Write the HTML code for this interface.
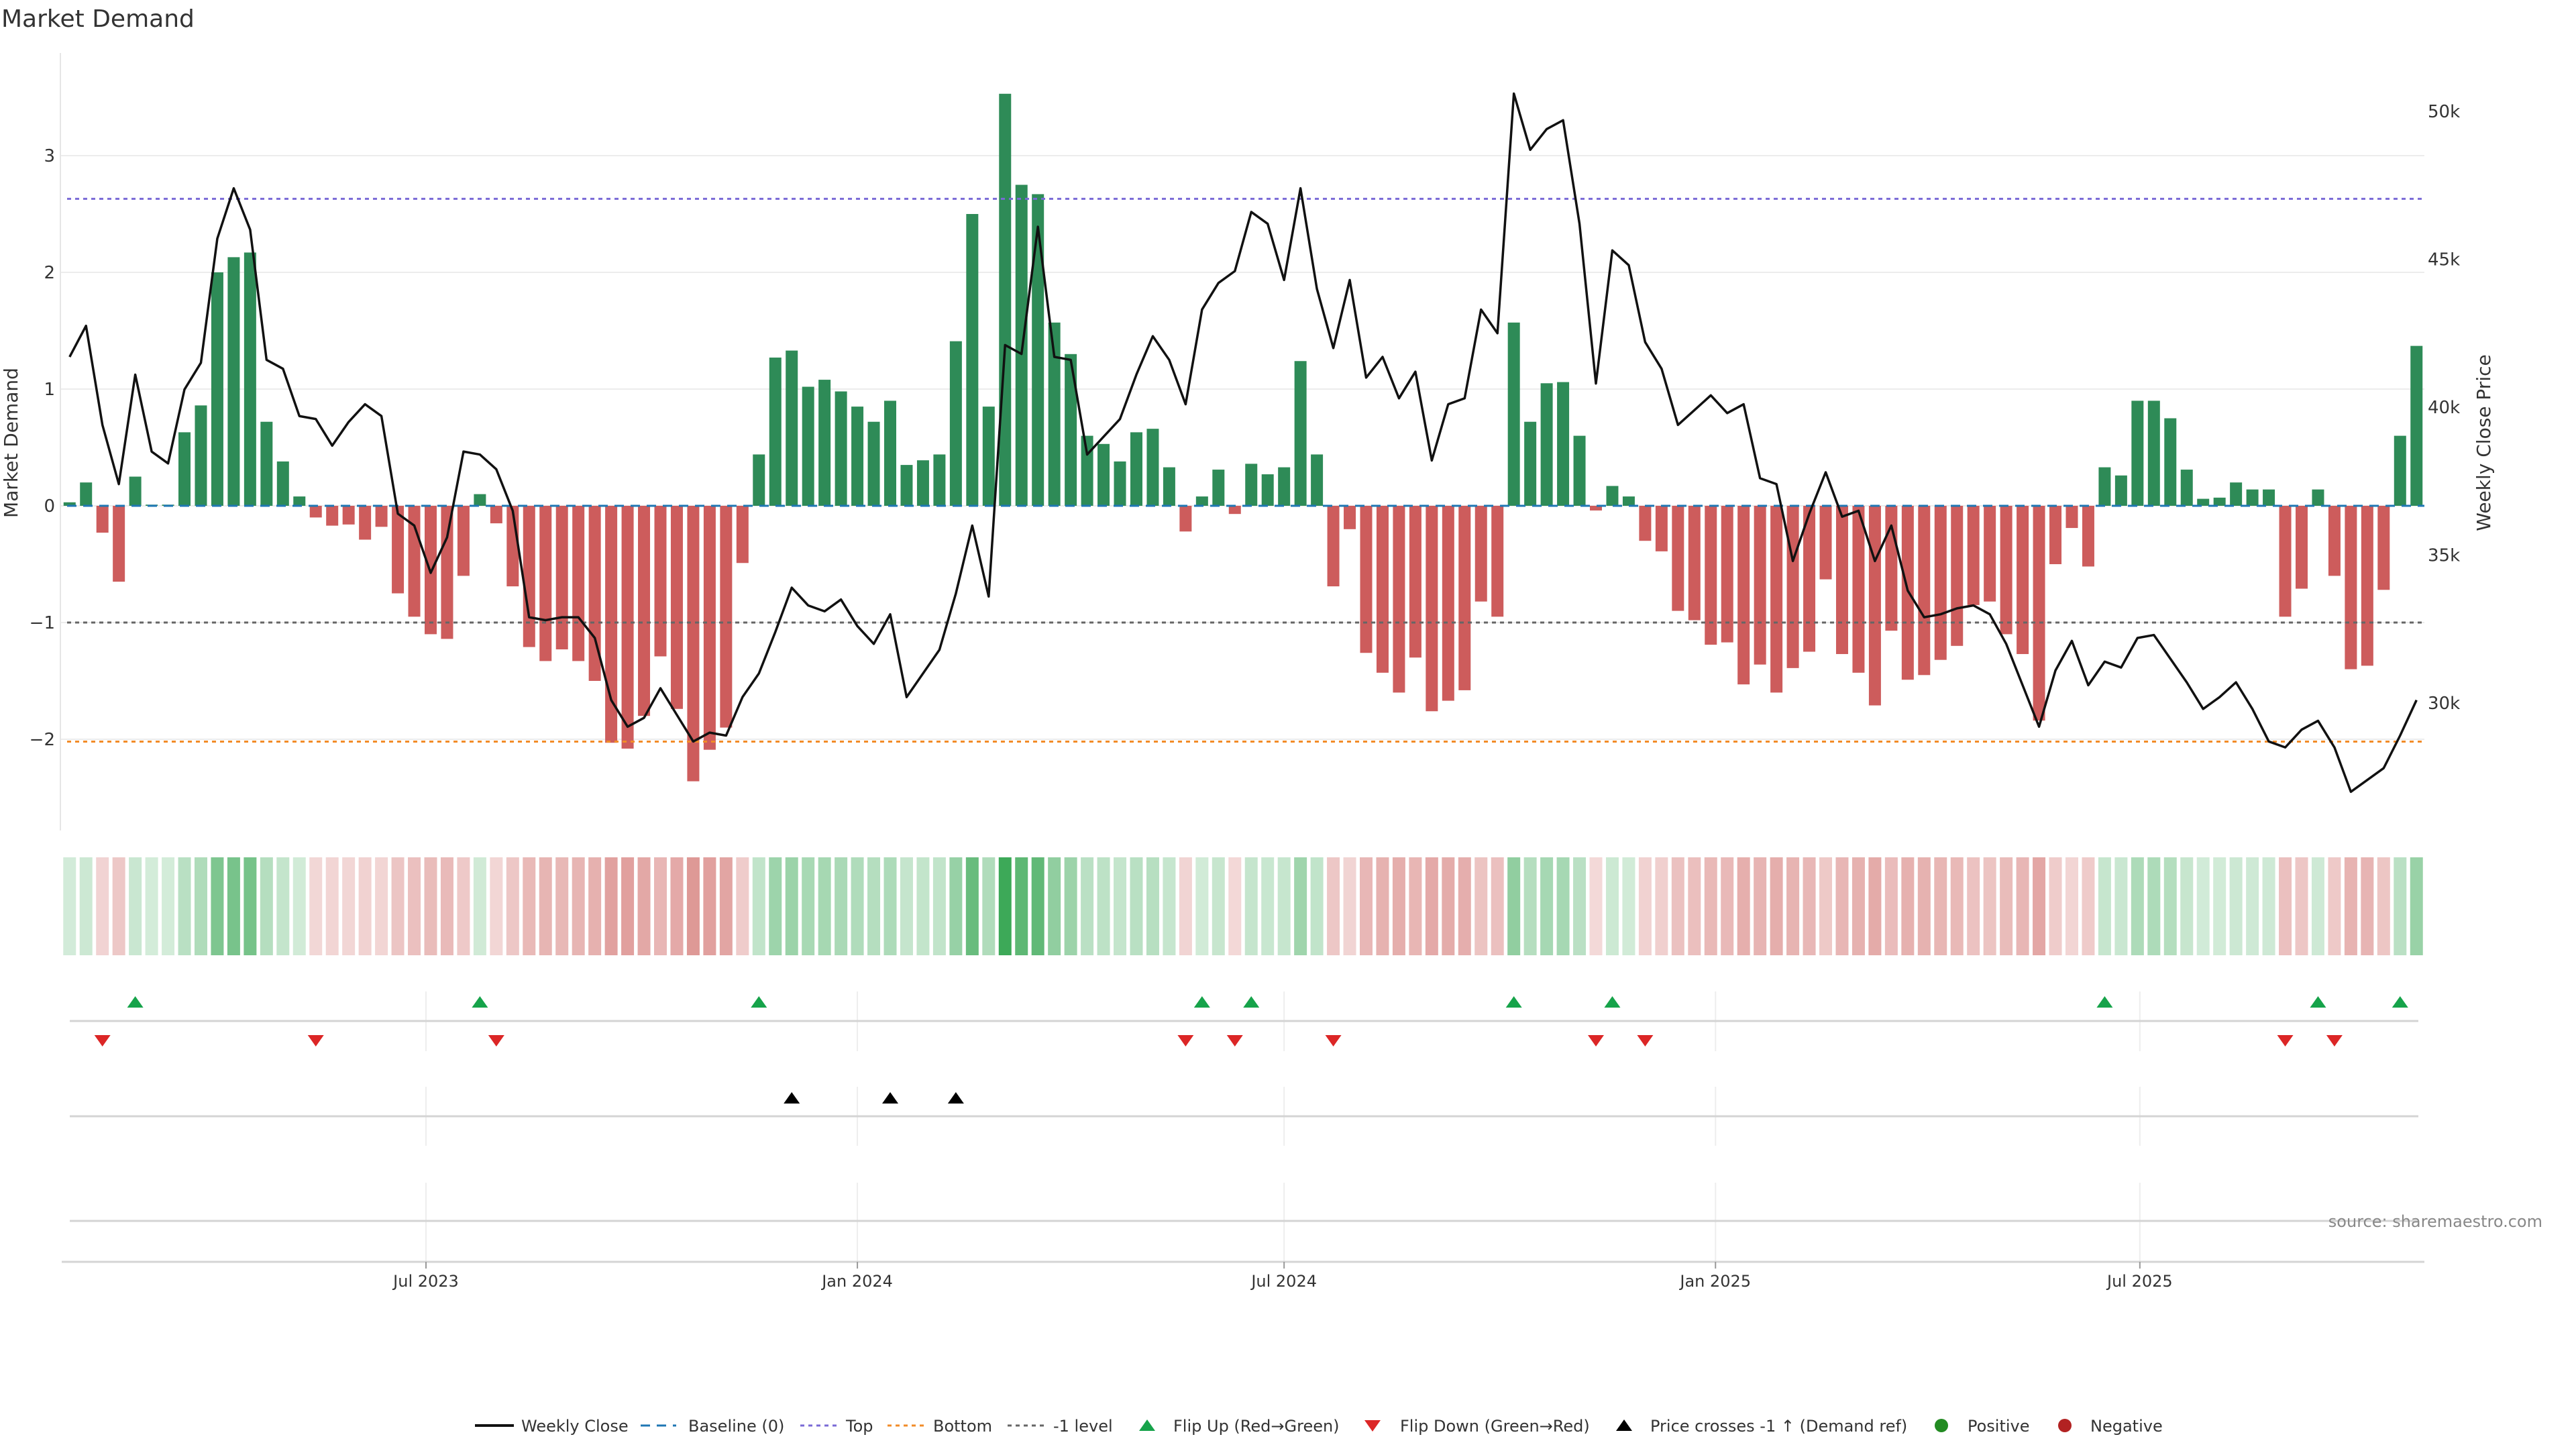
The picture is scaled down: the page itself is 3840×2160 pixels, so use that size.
<!DOCTYPE html>
<html><head><meta charset="utf-8"><style>
html,body{margin:0;padding:0;background:#fff;}
svg{display:block;font-family:"DejaVu Sans","Liberation Sans",sans-serif;}
</style></head><body>
<svg id="chart" width="3840" height="2160" viewBox="0 0 3840 2160" xmlns="http://www.w3.org/2000/svg">
<rect width="3840" height="2160" fill="#fff"/>
<text x="2" y="40" font-size="36" fill="#333">Market Demand</text>
<g id="grid"></g><g id="bars"></g><g id="lines"></g><g id="heat"></g><g id="flips"></g><g id="axes"></g><g id="legend"></g>
<text x="3790" y="1829" font-size="24" fill="#888" text-anchor="end">source: sharemaestro.com</text>
</svg>
<script>
const demand=[0.03,0.2,-0.23,-0.65,0.25,0.01,0.01,0.63,0.86,2.0,2.13,2.17,0.72,0.38,0.08,-0.1,-0.17,-0.16,-0.29,-0.18,-0.75,-0.95,-1.1,-1.14,-0.6,0.1,-0.15,-0.69,-1.21,-1.33,-1.23,-1.33,-1.5,-2.03,-2.08,-1.8,-1.29,-1.74,-2.36,-2.09,-1.9,-0.49,0.44,1.27,1.33,1.02,1.08,0.98,0.85,0.72,0.9,0.35,0.39,0.44,1.41,2.5,0.85,3.53,2.75,2.67,1.57,1.3,0.6,0.53,0.38,0.63,0.66,0.33,-0.22,0.08,0.31,-0.07,0.36,0.27,0.33,1.24,0.44,-0.69,-0.2,-1.26,-1.43,-1.6,-1.3,-1.76,-1.67,-1.58,-0.82,-0.95,1.57,0.72,1.05,1.06,0.6,-0.04,0.17,0.08,-0.3,-0.39,-0.9,-0.98,-1.19,-1.17,-1.53,-1.36,-1.6,-1.39,-1.25,-0.63,-1.27,-1.43,-1.71,-1.07,-1.49,-1.45,-1.32,-1.2,-0.85,-0.82,-1.1,-1.27,-1.84,-0.5,-0.19,-0.52,0.33,0.26,0.9,0.9,0.75,0.31,0.06,0.07,0.2,0.14,0.14,-0.95,-0.71,0.14,-0.6,-1.4,-1.37,-0.72,0.6,1.37];
const price=[41.7,42.75,39.4,37.4,41.1,38.5,38.1,40.6,41.5,45.7,47.4,46.0,41.6,41.3,39.7,39.6,38.7,39.5,40.1,39.7,36.4,36.0,34.4,35.6,38.5,38.4,37.9,36.5,32.9,32.8,32.9,32.9,32.2,30.1,29.2,29.5,30.5,29.6,28.7,29.0,28.9,30.2,31.0,32.4,33.9,33.3,33.1,33.5,32.6,32.0,33.0,30.2,31.0,31.8,33.7,36.0,33.6,42.1,41.8,46.1,41.7,41.6,38.4,39.0,39.6,41.1,42.4,41.6,40.1,43.3,44.2,44.6,46.6,46.2,44.3,47.4,44.0,42.0,44.3,41.0,41.7,40.3,41.2,38.2,40.1,40.3,43.3,42.5,50.6,48.7,49.4,49.7,46.2,40.8,45.3,44.8,42.2,41.3,39.4,39.9,40.4,39.8,40.1,37.6,37.4,34.8,36.4,37.8,36.3,36.5,34.8,36.0,33.8,32.9,33.0,33.2,33.3,33.0,32.0,30.6,29.2,31.1,32.1,30.6,31.4,31.2,32.2,32.3,31.5,30.7,29.8,30.2,30.7,29.8,28.7,28.5,29.1,29.4,28.5,27.0,27.4,27.8,28.9,30.1];
const crossIdx=[44,50,54];
const demandTicks=[-2,-1,0,1,2,3];
const priceTicks=[30,35,40,45,50];
const dateTicks=["Jul 2023","Jan 2024","Jul 2024","Jan 2025","Jul 2025"];
const dateTickDays=[0,184,366,550,731];
const levels=[2.63,-1,-2.02];

const NS="http://www.w3.org/2000/svg";
function mk(parent,tag,attrs,text){const e=document.createElementNS(NS,tag);for(const k in attrs)e.setAttribute(k,attrs[k]);if(text!==undefined)e.textContent=text;document.getElementById(parent).appendChild(e);return e;}
const xDay=d=>635+d*3.495;
const xi=i=>xDay(-152+7*i);
const yD=v=>754-v*174;
const yP=p=>166+(50-p)*44.1;
const L=90,R=3614;

demandTicks.forEach(t=>{
  const g=mk('grid','line',{x1:L,x2:R,y1:yD(t),y2:yD(t),stroke:'#ececec','stroke-width':2});
  
  
  const tx=mk('axes','text',{x:82,y:yD(t)+9,'font-size':26,fill:'#333','text-anchor':'end'},String(t).replace('-','\u2212'));
  
  
});
mk('axes','line',{x1:L,x2:L,y1:79,y2:1238,stroke:'#e6e6e6','stroke-width':2});
priceTicks.forEach(p=>{
  const tx=mk('axes','text',{x:3619,y:yP(p)+9,'font-size':26,fill:'#333'},p+'k');
  
  
});
const yt=mk('axes','text',{transform:'translate(26,660) rotate(-90)','font-size':28,fill:'#333','text-anchor':'middle'},'Market Demand');


const yt2=mk('axes','text',{transform:'translate(3712,660) rotate(-90)','font-size':28,fill:'#333','text-anchor':'middle'},'Weekly Close Price');



demand.forEach((v,i)=>{
  const y0=yD(0),y1=yD(v);
  const b=mk('bars','rect',{x:xi(i)-9,width:18,y:Math.min(y0,y1),height:Math.max(1,Math.abs(y1-y0)),fill:v>0?'#2e8b57':'#cd5c5c'});
  
  
});
const bl=mk('lines','line',{x1:100,x2:R,y1:yD(0),y2:yD(0),stroke:'#1f77b4','stroke-width':3,'stroke-dasharray':'14 10'});


const lvCols=['#7a6ad6','#666','#f28c28'];
const lvNames=['top-line','minus-one-level','bottom-line'];
levels.forEach((lv,k)=>{
  const l=mk('lines','line',{x1:100,x2:R,y1:yD(lv),y2:yD(lv),stroke:lvCols[k],'stroke-width':3,'stroke-dasharray':'6 6'});
  
  
});
const pl=mk('lines','polyline',{points:price.map((p,i)=>xi(i)+','+yP(p)).join(' '),fill:'none',stroke:'#111','stroke-width':3.5,'stroke-linejoin':'round'});



demand.forEach((v,i)=>{
  const a=Math.min(0.9,0.2+(v>0?0.2:0.15)*Math.abs(v));
  const c=mk('heat','rect',{x:xi(i)-9.5,width:19,y:1278,height:146,fill:v>0?'rgb(40,160,70)':'rgb(196,70,66)','fill-opacity':a});
  
  
});

[[1478,1567],[1620,1708],[1763,1881]].forEach(r=>{
  dateTickDays.forEach(d=>{
    const g=mk('flips','line',{x1:xDay(d),x2:xDay(d),y1:r[0],y2:r[1],stroke:'#eeeeee','stroke-width':2});
    
    
  });
});
[1522,1664,1820].forEach(y=>{mk('flips','line',{x1:104,x2:3605,y1:y,y2:y,stroke:'#d4d4d4','stroke-width':3});});
mk('axes','line',{x1:92,x2:3614,y1:1881,y2:1881,stroke:'#d4d4d4','stroke-width':3});
dateTicks.forEach((t,k)=>{
  const x=xDay(dateTickDays[k]);
  mk('axes','line',{x1:x,x2:x,y1:1881,y2:1891,stroke:'#999','stroke-width':2});
  const tx=mk('axes','text',{x:x,y:1918,'font-size':24,fill:'#333','text-anchor':'middle'},t);
  
  
});
function tri(g,x,y,up,col){return mk(g,'polygon',{points:up?`${x-12},${y+8} ${x+12},${y+8} ${x},${y-9}`:`${x-12},${y-8} ${x+12},${y-8} ${x},${y+9}`,fill:col});}
for(let i=1;i<demand.length;i++){
  if(demand[i]>0&&demand[i-1]<=0){const t=tri('flips',xi(i),1494,true,'#16a34a');}
  if(demand[i]<=0&&demand[i-1]>0){const t=tri('flips',xi(i),1551,false,'#dc2626');}
}
crossIdx.forEach(i=>{const t=tri('flips',xi(i),1637,true,'#000');});

const ly=2125;
function ltext(x,s){const t=mk('legend','text',{x:x,y:ly+9,'font-size':24,fill:'#333'},s);}
mk('legend','line',{x1:708,x2:766,y1:ly,y2:ly,stroke:'#111','stroke-width':4});ltext(777,'Weekly Close');
mk('legend','line',{x1:955,x2:1008,y1:ly,y2:ly,stroke:'#1f77b4','stroke-width':3,'stroke-dasharray':'14 10'});ltext(1026,'Baseline (0)');
mk('legend','line',{x1:1193,x2:1247,y1:ly,y2:ly,stroke:'#7a6ad6','stroke-width':3,'stroke-dasharray':'6 6'});ltext(1261,'Top');
mk('legend','line',{x1:1323,x2:1377,y1:ly,y2:ly,stroke:'#f28c28','stroke-width':3,'stroke-dasharray':'6 6'});ltext(1391,'Bottom');
mk('legend','line',{x1:1502,x2:1556,y1:ly,y2:ly,stroke:'#666','stroke-width':3,'stroke-dasharray':'6 6'});ltext(1570,'-1 level');
tri('legend',1710,ly,true,'#16a34a');ltext(1749,'Flip Up (Red\u2192Green)');
tri('legend',2046,ly,false,'#dc2626');ltext(2087,'Flip Down (Green\u2192Red)');
tri('legend',2421,ly,true,'#000');ltext(2460,'Price crosses -1 \u2191 (Demand ref)');
mk('legend','circle',{cx:2894,cy:ly,r:10,fill:'#228b22'});ltext(2933,'Positive');
mk('legend','circle',{cx:3078,cy:ly,r:10,fill:'#b22222'});ltext(3116,'Negative');
</script>
</body></html>
